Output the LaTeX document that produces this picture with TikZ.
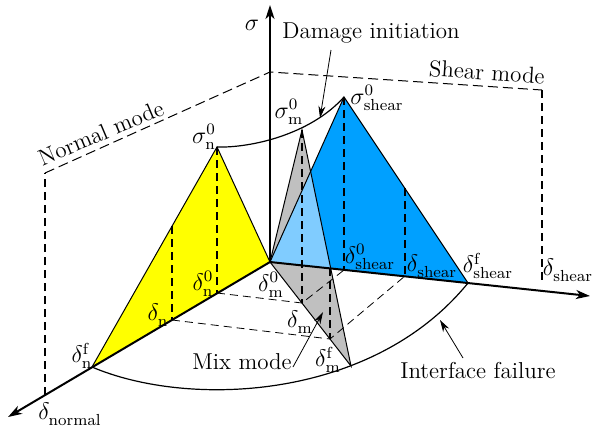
\documentclass[tikz,border=0pt]{standalone}
\usetikzlibrary{arrows.meta}
\definecolor{ylw}{RGB}{255,255,0}
\definecolor{blu}{RGB}{0,160,255}
\definecolor{lblu}{RGB}{128,204,255}
\definecolor{gry}{RGB}{192,192,192}
\newcommand{\gl}[3]{$#1^{\mathrm{#3}}_{\mathrm{#2}}$}
\begin{document}
\begin{tikzpicture}[x=0.5pt,y=-0.5pt,
  font=\fontsize{11.5}{13.5}\selectfont,
  axis/.style={line width=1pt,-{Stealth[length=7pt,width=4.5pt,inset=2pt]}},
  edge/.style={line width=0.5pt},
  vdash/.style={line width=1pt,dash pattern=on 4pt off 2.5pt},
  bdash/.style={line width=0.4pt,dash pattern=on 4pt off 2.5pt},
  fdash/.style={line width=0.5pt,dash pattern=on 5pt off 2.5pt},
  curve/.style={line width=0.6pt},
  pointer/.style={line width=0.4pt,-{Stealth[length=6pt,width=3.5pt]}},
  lab/.style={inner sep=0pt}]
\useasboundingbox (0,0) rectangle (593,435);
% points
\coordinate (O) at (270,262);
\coordinate (Stop) at (270,5);
\coordinate (Ntip) at (8,417);
\coordinate (Stip) at (590,296);
\coordinate (Pn) at (217,147);
\coordinate (Pm) at (302,130);
\coordinate (Ps) at (344,97);
\coordinate (Nf) at (92,367);
\coordinate (N0) at (217,293);
\coordinate (Nd) at (172,320);
\coordinate (NdT) at (172,226);
\coordinate (Mf) at (351,366);
\coordinate (M0) at (302,303);
\coordinate (Md) at (330,339);
\coordinate (MdT) at (330,268);
\coordinate (Sf) at (468,283);
\coordinate (S0) at (344,270);
\coordinate (Sd) at (405,276);
\coordinate (SdT) at (405,188);
\coordinate (F1) at (45,395);
\coordinate (F2) at (45,173);
\coordinate (F3) at (270,72);
\coordinate (F4) at (542,90);
\coordinate (F5) at (542,283);
% frame
\draw[fdash] (F2) -- (F3) -- (F4);
\draw[vdash] (F1) -- (F2);
\draw[vdash] (F4) -- (F5);
% fills
\fill[ylw] (Pn) -- (O) -- (Nf) -- cycle;
\fill[gry] (Pm) -- (O) -- (Mf) -- cycle;
\fill[blu] (Ps) -- (O) -- (Sf) -- cycle;
\begin{scope}
  \clip (Pm) -- (O) -- (Mf) -- cycle;
  \fill[lblu] (Ps) -- (O) -- (Sf) -- cycle;
\end{scope}
% outlines
\draw[edge] (Nf) -- (Pn) -- (O);
\draw[edge] (O) -- (Pm) -- (Mf) -- (O);
\draw[edge] (O) -- (Ps) -- (Sf);
% dashed projections
\draw[bdash] (N0) -- (M0) -- (S0);
\draw[bdash] (Nd) -- (Md) -- (Sd);
\draw[vdash] (Pn) -- (N0);
\draw[vdash] (NdT) -- (Nd);
\draw[vdash] (Pm) -- (M0);
\draw[vdash] (MdT) -- (Md);
\draw[vdash] (Ps) -- (S0);
\draw[vdash] (SdT) -- (Sd);
% axes
\draw[axis] (O) -- (Stop);
\draw[axis] (O) -- (Ntip);
\draw[axis] (O) -- (Stip);
% curves
\draw[curve] (Pn) .. controls (250,148) and (310,135) .. (Ps);
\draw[curve] (Nf) .. controls (188,408) and (372,401) .. (Sf);
% labels
\node[lab] (sig) at (252,25) {$\sigma$};
\node[lab] (dmg) at (371,33) {Damage initiation};
\node[lab,rotate=-3.8] (shm) at (487,72) {Shear mode};
\node[lab,rotate=23] (nrm) at (101,133) {Normal mode};
\node[lab] (lsn0) at (204,137) {\gl{\sigma}{n}{0}};
\node[lab] (lsm0) at (289,112) {\gl{\sigma}{m}{0}};
\node[lab] (lss0) at (377,98) {\gl{\sigma}{shear}{0}};
\node[lab] (ldn0) at (203,284) {\gl{\delta}{n}{0}};
\node[lab] (ldn) at (158,315) {\gl{\delta}{n}{}};
\node[lab] (ldm0) at (271,285) {\gl{\delta}{m}{0}};
\node[lab] (ldm) at (300,322) {\gl{\delta}{m}{}};
\node[lab] (ldmf) at (328,360) {\gl{\delta}{m}{f}};
\node[lab] (ldnf) at (82,356) {\gl{\delta}{n}{f}};
\node[lab] (ldnorm) at (70,414) {\gl{\delta}{normal}{}};
\node[lab] (lds0) at (370,257) {\gl{\delta}{shear}{0}};
\node[lab] (lds) at (432,266) {\gl{\delta}{shear}{}};
\node[lab] (ldsf) at (488,266) {\gl{\delta}{shear}{f}};
\node[lab] (ldsax) at (568,270) {\gl{\delta}{shear}{}};
\node[lab] (mix) at (242,362) {Mix mode};
\node[lab] (ifl) at (478,371) {Interface failure};
% pointers
\coordinate (a1s) at (331,50);
\coordinate (a1e) at (320,118);
\coordinate (a2s) at (293,367);
\coordinate (a2e) at (323,312);
\coordinate (a3s) at (463,358);
\coordinate (a3e) at (440,320);
\draw[pointer] (a1s) -- (a1e);
\draw[pointer] (a2s) -- (a2e);
\draw[pointer] (a3s) -- (a3e);
\end{tikzpicture}
\end{document}
